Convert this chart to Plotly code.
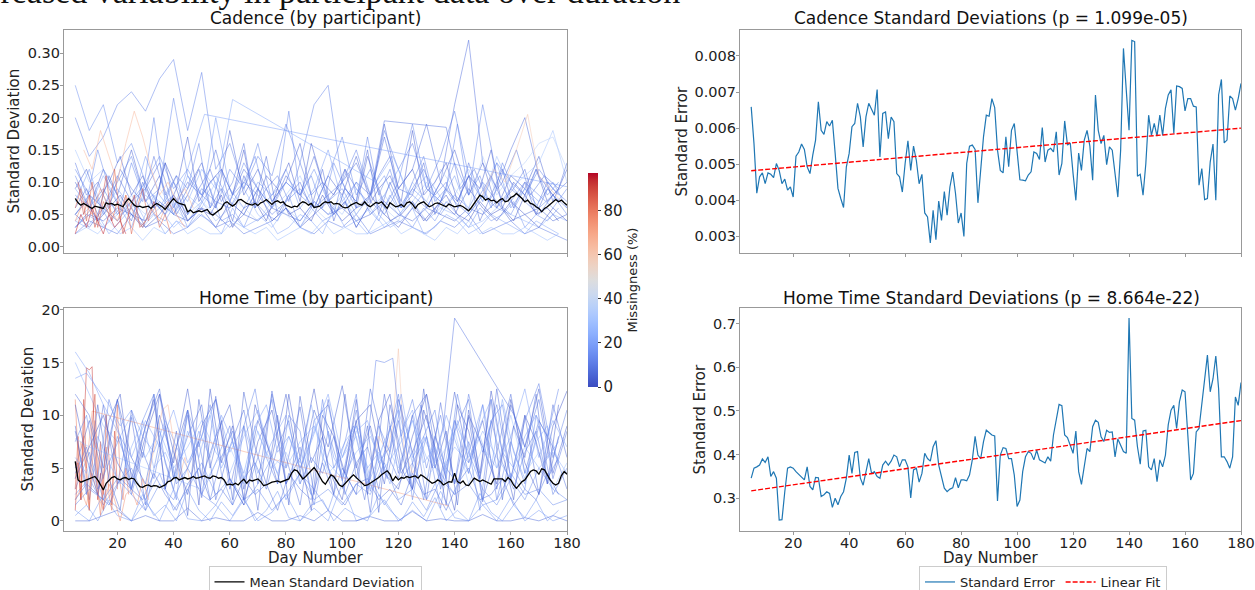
import plotly.graph_objects as go

# ---------------- data ----------------
DAYS = list(range(5, 181))  # day numbers 5..180

CAD_MEAN = [0.0747, 0.0680, 0.0644, 0.0670, 0.0644, 0.0619, 0.0593, 0.0629, 0.0619, 0.0608,
            0.0593, 0.0680, 0.0660, 0.0670, 0.0644, 0.0660, 0.0644, 0.0619, 0.0696, 0.0747,
            0.0696, 0.0644, 0.0619, 0.0629, 0.0608, 0.0619, 0.0629, 0.0593, 0.0644, 0.0670,
            0.0644, 0.0619, 0.0577, 0.0644, 0.0696, 0.0747, 0.0696, 0.0670, 0.0655, 0.0644,
            0.0541, 0.0567, 0.0526, 0.0541, 0.0557, 0.0541, 0.0557, 0.0577, 0.0515, 0.0490,
            0.0526, 0.0567, 0.0593, 0.0670, 0.0696, 0.0660, 0.0629, 0.0660, 0.0722, 0.0732,
            0.0696, 0.0670, 0.0655, 0.0644, 0.0670, 0.0639, 0.0680, 0.0696, 0.0732, 0.0686,
            0.0655, 0.0696, 0.0711, 0.0680, 0.0696, 0.0644, 0.0629, 0.0608, 0.0629, 0.0619,
            0.0670, 0.0696, 0.0680, 0.0644, 0.0670, 0.0608, 0.0619, 0.0629, 0.0670, 0.0696,
            0.0680, 0.0696, 0.0660, 0.0670, 0.0660, 0.0619, 0.0603, 0.0608, 0.0644, 0.0670,
            0.0686, 0.0660, 0.0644, 0.0696, 0.0644, 0.0619, 0.0655, 0.0686, 0.0670, 0.0696,
            0.0644, 0.0593, 0.0680, 0.0655, 0.0619, 0.0629, 0.0655, 0.0619, 0.0680, 0.0696,
            0.0660, 0.0593, 0.0655, 0.0680, 0.0696, 0.0655, 0.0619, 0.0639, 0.0670, 0.0680,
            0.0660, 0.0629, 0.0619, 0.0660, 0.0644, 0.0619, 0.0629, 0.0639, 0.0619, 0.0593,
            0.0557, 0.0608, 0.0670, 0.0732, 0.0799, 0.0773, 0.0722, 0.0747, 0.0711, 0.0722,
            0.0680, 0.0722, 0.0747, 0.0696, 0.0711, 0.0763, 0.0784, 0.0825, 0.0789, 0.0747,
            0.0696, 0.0722, 0.0670, 0.0655, 0.0619, 0.0593, 0.0541, 0.0593, 0.0619, 0.0660,
            0.0696, 0.0732, 0.0696, 0.0722, 0.0680, 0.0644]

HOME_MEAN = [5.63, 3.88, 3.66, 3.78, 3.88, 3.97, 4.10, 4.20, 3.88, 3.40,
             2.93, 3.56, 3.88, 4.10, 4.20, 3.97, 3.88, 4.04, 4.10, 3.91,
             4.04, 3.97, 3.56, 3.24, 3.18, 3.34, 3.40, 3.24, 3.34, 3.31,
             3.15, 3.31, 3.40, 3.72, 3.78, 4.04, 4.10, 3.88, 3.97, 4.10,
             3.97, 4.04, 4.20, 4.04, 4.10, 4.20, 4.26, 4.10, 4.04, 4.26,
             4.20, 4.04, 4.10, 3.88, 3.40, 3.47, 3.40, 3.56, 3.40, 3.72,
             3.94, 3.56, 3.88, 3.78, 3.88, 3.97, 3.72, 3.34, 3.40, 3.56,
             3.66, 3.72, 3.78, 3.66, 3.78, 3.88, 3.97, 4.52, 4.83, 4.74,
             4.36, 3.97, 4.20, 4.52, 4.83, 5.06, 4.67, 4.20, 3.72, 3.47,
             3.88, 4.36, 4.20, 3.78, 3.40, 3.24, 3.56, 3.88, 4.10, 4.36,
             4.10, 3.88, 3.56, 3.34, 3.40, 3.56, 3.78, 3.88, 4.10, 4.36,
             4.52, 4.74, 4.42, 3.78, 4.20, 3.88, 4.10, 4.04, 4.20, 4.10,
             4.20, 4.26, 4.04, 4.36, 4.20, 3.97, 3.72, 3.56, 3.66, 3.88,
             3.72, 3.40, 3.56, 3.72, 3.66, 4.52, 3.72, 3.56, 3.78, 3.40,
             3.34, 3.66, 4.04, 3.88, 3.72, 3.88, 3.72, 3.56, 3.47, 3.97,
             3.97, 4.04, 3.97, 3.72, 4.10, 3.88, 3.40, 3.08, 3.40, 3.72,
             3.88, 4.29, 4.67, 4.83, 4.74, 4.42, 4.93, 4.83, 4.36, 3.88,
             3.56, 3.40, 3.56, 4.29, 4.67, 4.42]

CAD_SE = [0.00659, 0.00557, 0.00420, 0.00465, 0.00476, 0.00446, 0.00476, 0.00472, 0.00463, 0.00502,
          0.00483, 0.00446, 0.00459, 0.00428, 0.00437, 0.00409, 0.00522, 0.00534, 0.00556, 0.00541,
          0.00493, 0.00474, 0.00525, 0.00567, 0.00673, 0.00594, 0.00583, 0.00618, 0.00606, 0.00622,
          0.00530, 0.00433, 0.00405, 0.00380, 0.00493, 0.00530, 0.00604, 0.00613, 0.00669, 0.00631,
          0.00548, 0.00631, 0.00669, 0.00650, 0.00636, 0.00707, 0.00520, 0.00641, 0.00645, 0.00571,
          0.00631, 0.00618, 0.00474, 0.00465, 0.00423, 0.00502, 0.00565, 0.00483, 0.00550, 0.00511,
          0.00446, 0.00472, 0.00365, 0.00354, 0.00282, 0.00372, 0.00291, 0.00398, 0.00344, 0.00424,
          0.00359, 0.00437, 0.00478, 0.00419, 0.00337, 0.00365, 0.00300, 0.00502, 0.00550, 0.00553,
          0.00541, 0.00393, 0.00483, 0.00576, 0.00636, 0.00633, 0.00682, 0.00657, 0.00539, 0.00483,
          0.00476, 0.00576, 0.00493, 0.00594, 0.00613, 0.00539, 0.00457, 0.00456, 0.00454, 0.00470,
          0.00479, 0.00534, 0.00530, 0.00513, 0.00602, 0.00506, 0.00539, 0.00544, 0.00534, 0.00590,
          0.00470, 0.00502, 0.00620, 0.00553, 0.00559, 0.00474, 0.00400, 0.00531, 0.00483, 0.00567,
          0.00594, 0.00550, 0.00456, 0.00692, 0.00594, 0.00557, 0.00580, 0.00499, 0.00548, 0.00539,
          0.00474, 0.00409, 0.00539, 0.00821, 0.00706, 0.00594, 0.00843, 0.00840, 0.00467, 0.00472,
          0.00414, 0.00502, 0.00636, 0.00580, 0.00613, 0.00578, 0.00636, 0.00580, 0.00655, 0.00692,
          0.00706, 0.00585, 0.00717, 0.00715, 0.00710, 0.00648, 0.00682, 0.00682, 0.00661, 0.00659,
          0.00442, 0.00488, 0.00402, 0.00405, 0.00506, 0.00556, 0.00400, 0.00692, 0.00735, 0.00559,
          0.00567, 0.00689, 0.00682, 0.00650, 0.00682, 0.00724]

HOME_SE = [0.346, 0.369, 0.372, 0.376, 0.390, 0.382, 0.395, 0.350, 0.361, 0.346,
           0.250, 0.251, 0.315, 0.369, 0.372, 0.369, 0.361, 0.355, 0.350, 0.342,
           0.372, 0.327, 0.319, 0.348, 0.347, 0.304, 0.308, 0.315, 0.311, 0.279,
           0.300, 0.285, 0.304, 0.315, 0.346, 0.399, 0.357, 0.405, 0.407, 0.346,
           0.330, 0.361, 0.391, 0.357, 0.361, 0.350, 0.346, 0.376, 0.385, 0.376,
           0.385, 0.399, 0.395, 0.372, 0.388, 0.388, 0.372, 0.301, 0.365, 0.369,
           0.337, 0.357, 0.403, 0.391, 0.385, 0.418, 0.432, 0.376, 0.346, 0.323,
           0.315, 0.321, 0.324, 0.347, 0.324, 0.342, 0.342, 0.340, 0.353, 0.388,
           0.442, 0.399, 0.391, 0.430, 0.456, 0.451, 0.445, 0.443, 0.294, 0.399,
           0.416, 0.414, 0.391, 0.391, 0.353, 0.281, 0.296, 0.361, 0.395, 0.407,
           0.403, 0.388, 0.410, 0.388, 0.384, 0.381, 0.395, 0.385, 0.445, 0.483,
           0.515, 0.512, 0.445, 0.439, 0.422, 0.403, 0.454, 0.361, 0.332, 0.376,
           0.414, 0.407, 0.464, 0.479, 0.474, 0.441, 0.430, 0.456, 0.451, 0.452,
           0.395, 0.436, 0.422, 0.407, 0.403, 0.713, 0.483, 0.479, 0.418, 0.378,
           0.454, 0.456, 0.372, 0.365, 0.391, 0.338, 0.388, 0.372, 0.399, 0.468,
           0.502, 0.513, 0.460, 0.521, 0.548, 0.544, 0.445, 0.342, 0.357, 0.452,
           0.460, 0.513, 0.574, 0.628, 0.544, 0.574, 0.626, 0.551, 0.395, 0.395,
           0.384, 0.369, 0.395, 0.532, 0.513, 0.565]

FIT_DAYS = [5, 180]
CAD_FIT = [0.00482, 0.00600]
HOME_FIT = [0.317, 0.478]

# participant series: (missingness %, days, values)
STEP5_DAYS = list(range(5, 181, 5))
STEP4_DAYS = list(range(5, 178, 4))

CAD_PARTICIPANTS = [
    (12, STEP5_DAYS, [0.20, 0.14, 0.17, 0.22, 0.24, 0.21, 0.26, 0.29, 0.18, 0.27, 0.12, 0.16, 0.09, 0.14, 0.11, 0.19, 0.13, 0.22,
                      0.25, 0.10, 0.15, 0.08, 0.18, 0.12, 0.16, 0.09, 0.14, 0.21, 0.11, 0.07, 0.13, 0.10, 0.08, 0.12, 0.09, 0.07]),
    (8, STEP5_DAYS, [0.05, 0.08, 0.06, 0.11, 0.07, 0.09, 0.13, 0.06, 0.10, 0.08, 0.15, 0.07, 0.12, 0.09, 0.06, 0.11, 0.08, 0.14,
                     0.07, 0.10, 0.13, 0.08, 0.17, 0.09, 0.12, 0.19, 0.10, 0.22, 0.32, 0.13, 0.09, 0.15, 0.20, 0.11, 0.08, 0.10]),
    (20, [5, 9, 13, 17, 21, 25, 29, 33, 37, 41, 45, 51, 180],
         [0.03, 0.05, 0.04, 0.07, 0.05, 0.06, 0.04, 0.08, 0.05, 0.07, 0.12, 0.205, 0.093]),
    (15, STEP5_DAYS, [0.25, 0.18, 0.22, 0.13, 0.16, 0.10, 0.14, 0.09, 0.12, 0.08, 0.11, 0.07, 0.13, 0.09, 0.06, 0.10, 0.08, 0.12,
                      0.07, 0.09, 0.05, 0.08, 0.11, 0.06, 0.09, 0.07, 0.05, 0.08, 0.06, 0.10, 0.07, 0.05, 0.09, 0.06, 0.08, 0.05]),
    (25, STEP5_DAYS, [0.04, 0.06, 0.03, 0.05, 0.08, 0.04, 0.06, 0.03, 0.05, 0.07, 0.04, 0.06, 0.09, 0.05, 0.03, 0.06, 0.04, 0.07,
                      0.05, 0.08, 0.04, 0.06, 0.03, 0.05, 0.07, 0.04, 0.06, 0.05, 0.03, 0.04, 0.06, 0.05, 0.04, 0.03, 0.05, 0.04]),
    (5, STEP5_DAYS, [0.10, 0.06, 0.12, 0.08, 0.15, 0.07, 0.11, 0.05, 0.09, 0.13, 0.06, 0.18, 0.08, 0.12, 0.07, 0.10, 0.16, 0.06,
                     0.11, 0.08, 0.14, 0.07, 0.19, 0.09, 0.12, 0.06, 0.10, 0.15, 0.08, 0.13, 0.06, 0.11, 0.09, 0.14, 0.07, 0.12]),
    (10, STEP5_DAYS, [0.02, 0.04, 0.03, 0.02, 0.05, 0.03, 0.04, 0.02, 0.03, 0.05, 0.03, 0.04, 0.02, 0.03, 0.04, 0.06, 0.03, 0.02,
                      0.04, 0.03, 0.05, 0.02, 0.03, 0.04, 0.03, 0.02, 0.04, 0.03, 0.05, 0.02, 0.03, 0.04, 0.02, 0.03, 0.02, 0.01]),
    (18, STEP5_DAYS, [0.07, 0.12, 0.05, 0.09, 0.06, 0.14, 0.08, 0.05, 0.11, 0.07, 0.20, 0.09, 0.06, 0.10, 0.08, 0.12, 0.06, 0.09,
                      0.15, 0.07, 0.10, 0.05, 0.08, 0.12, 0.06, 0.09, 0.07, 0.11, 0.05, 0.08, 0.13, 0.06, 0.09, 0.07, 0.10, 0.06]),
    (30, STEP5_DAYS, [0.15, 0.10, 0.12, 0.08, 0.06, 0.09, 0.07, 0.05, 0.08, 0.06, 0.10, 0.07, 0.05, 0.09, 0.06, 0.08, 0.11, 0.06,
                      0.07, 0.05, 0.09, 0.06, 0.08, 0.05, 0.07, 0.10, 0.06, 0.08, 0.12, 0.07, 0.14, 0.09, 0.11, 0.13, 0.18, 0.10]),
    (3, STEP5_DAYS, [0.05, 0.03, 0.06, 0.04, 0.07, 0.03, 0.05, 0.08, 0.04, 0.06, 0.03, 0.07, 0.05, 0.09, 0.04, 0.06, 0.03, 0.05,
                     0.07, 0.04, 0.06, 0.08, 0.05, 0.03, 0.06, 0.04, 0.07, 0.05, 0.09, 0.06, 0.04, 0.07, 0.05, 0.03, 0.06, 0.04]),
    (14, STEP5_DAYS, [0.12, 0.08, 0.06, 0.10, 0.14, 0.07, 0.09, 0.23, 0.11, 0.08, 0.06, 0.12, 0.09, 0.16, 0.07, 0.10, 0.08, 0.06,
                      0.11, 0.17, 0.08, 0.12, 0.06, 0.10, 0.19, 0.09, 0.07, 0.13, 0.08, 0.22, 0.11, 0.07, 0.10, 0.08, 0.06, 0.09]),
    (22, [5, 10, 15, 20, 25, 30, 35, 40, 45, 50, 55, 61, 112, 118, 124, 130, 136],
         [0.09, 0.06, 0.11, 0.07, 0.05, 0.08, 0.06, 0.10, 0.07, 0.12, 0.09, 0.228, 0.10, 0.14, 0.08, 0.11, 0.07]),
    (9, [100, 105, 110, 115, 137, 142, 147, 152, 157, 162, 167, 172, 177, 180],
        [0.06, 0.10, 0.08, 0.195, 0.185, 0.09, 0.12, 0.07, 0.10, 0.15, 0.08, 0.11, 0.09, 0.13]),
    (6, STEP5_DAYS, [0.03, 0.05, 0.04, 0.06, 0.05, 0.04, 0.07, 0.05, 0.04, 0.06, 0.05, 0.03, 0.05, 0.04, 0.06, 0.05, 0.04, 0.07,
                     0.05, 0.06, 0.04, 0.05, 0.07, 0.05, 0.04, 0.06, 0.05, 0.04, 0.06, 0.05, 0.07, 0.04, 0.05, 0.06, 0.04, 0.05]),
    (11, STEP5_DAYS, [0.08, 0.06, 0.09, 0.05, 0.07, 0.10, 0.06, 0.08, 0.05, 0.09, 0.07, 0.06, 0.10, 0.08, 0.05, 0.07, 0.09, 0.06,
                      0.08, 0.10, 0.06, 0.07, 0.05, 0.09, 0.08, 0.06, 0.10, 0.07, 0.05, 0.08, 0.06, 0.09, 0.07, 0.05, 0.08, 0.06]),
    (35, STEP5_DAYS, [0.05, 0.08, 0.06, 0.04, 0.07, 0.05, 0.09, 0.06, 0.04, 0.07, 0.05, 0.08, 0.06, 0.04, 0.07, 0.05, 0.03, 0.06,
                      0.04, 0.07, 0.05, 0.08, 0.06, 0.04, 0.10, 0.07, 0.12, 0.09, 0.06, 0.14, 0.08, 0.11, 0.13, 0.16, 0.17, 0.12]),
    (7, STEP4_DAYS, [0.06, 0.09, 0.05, 0.11, 0.07, 0.04, 0.10, 0.06, 0.13, 0.05, 0.08, 0.12, 0.06, 0.09, 0.04, 0.11, 0.07, 0.14,
                     0.05, 0.08, 0.10, 0.06, 0.12, 0.04, 0.09, 0.07, 0.15, 0.05, 0.10, 0.06, 0.08, 0.13, 0.05, 0.09, 0.07, 0.11,
                     0.04, 0.08, 0.12, 0.06, 0.10, 0.05, 0.09, 0.07]),
    (16, STEP4_DAYS, [0.03, 0.05, 0.07, 0.04, 0.06, 0.03, 0.08, 0.05, 0.04, 0.07, 0.03, 0.06, 0.09, 0.04, 0.05, 0.03, 0.07, 0.05,
                      0.04, 0.08, 0.03, 0.06, 0.04, 0.05, 0.07, 0.03, 0.06, 0.04, 0.08, 0.05, 0.03, 0.06, 0.04, 0.07, 0.05, 0.03,
                      0.06, 0.04, 0.05, 0.07, 0.03, 0.05, 0.04, 0.06]),
    (4, STEP4_DAYS, [0.09, 0.12, 0.07, 0.10, 0.14, 0.08, 0.11, 0.06, 0.13, 0.09, 0.17, 0.07, 0.10, 0.12, 0.08, 0.15, 0.06, 0.11,
                     0.09, 0.13, 0.07, 0.16, 0.10, 0.08, 0.12, 0.06, 0.14, 0.09, 0.11, 0.07, 0.18, 0.08, 0.10, 0.13, 0.07, 0.11,
                     0.09, 0.15, 0.06, 0.10, 0.08, 0.12, 0.07, 0.09]),
    (21, STEP4_DAYS, [0.04, 0.03, 0.05, 0.02, 0.04, 0.06, 0.03, 0.05, 0.02, 0.04, 0.03, 0.05, 0.04, 0.02, 0.06, 0.03, 0.04, 0.05,
                      0.02, 0.03, 0.05, 0.04, 0.02, 0.06, 0.03, 0.04, 0.02, 0.05, 0.03, 0.04, 0.06, 0.02, 0.03, 0.05, 0.04, 0.02,
                      0.03, 0.05, 0.04, 0.03, 0.02, 0.04, 0.03, 0.02]),
    (13, STEP4_DAYS, [0.11, 0.07, 0.15, 0.09, 0.06, 0.13, 0.08, 0.20, 0.07, 0.11, 0.09, 0.16, 0.06, 0.12, 0.08, 0.10, 0.14, 0.07,
                      0.09, 0.21, 0.08, 0.11, 0.06, 0.13, 0.09, 0.07, 0.17, 0.08, 0.12, 0.06, 0.10, 0.14, 0.07, 0.09, 0.19, 0.08,
                      0.11, 0.06, 0.13, 0.09, 0.07, 0.12, 0.08, 0.10]),
    (2, STEP4_DAYS, [0.05, 0.07, 0.04, 0.06, 0.08, 0.05, 0.03, 0.07, 0.05, 0.09, 0.04, 0.06, 0.05, 0.08, 0.03, 0.06, 0.07, 0.04,
                     0.09, 0.05, 0.06, 0.04, 0.08, 0.05, 0.07, 0.03, 0.06, 0.09, 0.04, 0.05, 0.07, 0.04, 0.06, 0.08, 0.05, 0.04,
                     0.07, 0.05, 0.06, 0.04, 0.08, 0.05, 0.06, 0.04]),
    (28, STEP4_DAYS, [0.02, 0.03, 0.02, 0.04, 0.02, 0.03, 0.01, 0.03, 0.02, 0.04, 0.02, 0.03, 0.02, 0.02, 0.04, 0.03, 0.02, 0.03,
                      0.01, 0.02, 0.03, 0.02, 0.04, 0.02, 0.03, 0.02, 0.02, 0.03, 0.04, 0.02, 0.03, 0.02, 0.01, 0.03, 0.02, 0.04,
                      0.02, 0.03, 0.02, 0.02, 0.03, 0.02, 0.01, 0.02]),
    (10, STEP4_DAYS, [0.13, 0.08, 0.10, 0.06, 0.12, 0.09, 0.07, 0.14, 0.08, 0.11, 0.05, 0.09, 0.12, 0.07, 0.10, 0.16, 0.06, 0.09,
                      0.11, 0.07, 0.13, 0.08, 0.10, 0.05, 0.12, 0.09, 0.07, 0.11, 0.14, 0.06, 0.09, 0.12, 0.08, 0.10, 0.06, 0.13,
                      0.08, 0.11, 0.07, 0.09, 0.12, 0.06, 0.10, 0.08]),
    (85, list(range(5, 40, 2)), [0.06, 0.09, 0.04, 0.10, 0.03, 0.07, 0.05, 0.12, 0.04, 0.08, 0.02, 0.06, 0.09, 0.04, 0.07, 0.03, 0.05, 0.02]),
    (90, list(range(6, 31, 2)), [0.10, 0.05, 0.08, 0.03, 0.06, 0.11, 0.04, 0.07, 0.02, 0.05, 0.08, 0.03, 0.04]),
    (75, list(range(5, 45, 3)), [0.04, 0.07, 0.05, 0.09, 0.06, 0.04, 0.08, 0.05, 0.03, 0.06, 0.04, 0.07, 0.05, 0.03]),
    (65, list(range(8, 48, 3)), [0.15, 0.12, 0.18, 0.14, 0.10, 0.16, 0.21, 0.17, 0.12, 0.08, 0.10, 0.07, 0.09, 0.06]),
    (95, list(range(5, 25, 2)), [0.02, 0.05, 0.03, 0.06, 0.04, 0.02, 0.05, 0.03, 0.04, 0.02]),
    (60, [150, 154, 158, 162, 166, 170, 174, 178], [0.08, 0.12, 0.10, 0.15, 0.205, 0.11, 0.09, 0.07]),
]

HOME_PARTICIPANTS = [
    (8, STEP5_DAYS, [8.5, 2.0, 11.0, 3.5, 9.8, 1.5, 12.0, 4.0, 10.5, 2.2, 11.8, 3.0, 9.0, 1.0, 12.3, 5.0, 10.8, 2.5,
                     11.5, 3.8, 9.5, 0.8, 12.0, 4.5, 10.0, 2.0, 11.2, 3.5, 9.8, 1.8, 12.5, 4.0, 10.0, 2.5, 11.0, 6.0]),
    (12, STEP5_DAYS, [3.0, 6.5, 2.0, 8.0, 4.5, 1.0, 7.5, 3.0, 10.0, 2.5, 5.5, 9.0, 2.0, 6.0, 11.5, 3.5, 7.0, 1.5,
                      8.5, 4.0, 10.5, 2.8, 6.5, 12.0, 3.0, 8.0, 1.2, 9.5, 4.5, 11.0, 2.0, 7.5, 3.5, 9.0, 2.5, 5.0]),
    (18, STEP5_DAYS, [1.0, 0.0, 2.5, 0.5, 0.0, 1.8, 0.0, 3.0, 0.2, 0.0, 1.5, 0.0, 2.0, 0.0, 0.8, 2.5, 0.0, 1.2,
                      0.0, 3.5, 0.0, 0.5, 2.0, 0.0, 1.0, 0.0, 2.8, 0.3, 0.0, 1.5, 0.0, 2.2, 0.0, 1.0, 0.0, 0.5]),
    (5, STEP5_DAYS, [5.0, 9.5, 4.0, 11.5, 6.0, 3.5, 10.0, 5.5, 12.5, 4.0, 8.0, 11.0, 3.0, 9.5, 6.0, 12.0, 4.5, 10.5,
                     7.0, 12.8, 5.0, 9.0, 3.5, 11.5, 6.5, 10.0, 4.0, 12.2, 5.5, 9.5, 3.0, 11.0, 7.0, 12.5, 4.5, 9.0]),
    (25, STEP5_DAYS, [15.0, 12.0, 9.0, 7.5, 10.0, 6.0, 8.5, 5.0, 7.0, 9.5, 6.5, 4.5, 8.0, 10.5, 6.0, 5.0, 7.5, 9.0,
                      5.5, 4.0, 6.5, 8.0, 5.0, 7.0, 9.5, 6.0, 4.5, 7.0, 5.5, 8.5, 6.0, 4.0, 7.0, 5.0, 6.5, 4.5]),
    (15, STEP5_DAYS, [2.5, 4.0, 1.5, 3.5, 5.0, 2.0, 4.5, 1.0, 3.0, 5.5, 2.5, 4.0, 1.5, 3.5, 6.0, 2.0, 4.5, 3.0,
                      1.0, 5.0, 2.5, 4.0, 1.5, 3.5, 5.5, 2.0, 4.5, 2.5, 6.5, 3.0, 1.5, 4.0, 2.0, 5.0, 3.0, 2.0]),
    (10, [100, 104, 108, 112, 116, 120, 124, 128, 132, 136, 140, 161, 165, 170, 175, 180],
         [3.0, 6.5, 2.0, 8.0, 4.0, 9.5, 3.5, 11.0, 5.0, 9.0, 19.2, 10.1, 7.0, 11.5, 4.0, 8.5]),
    (70, [5, 7, 9, 11, 138], [4.0, 7.5, 5.0, 10.4, 1.4]),
    (60, [110, 113, 116, 118, 120, 122, 125, 128], [5.0, 8.0, 6.5, 9.0, 16.3, 7.0, 4.5, 6.0]),
    (12, [100, 104, 108, 112, 115, 118, 121, 125, 130, 135, 140, 145, 150, 155, 160, 165, 170, 175, 180],
         [6.0, 9.0, 4.5, 15.2, 15.0, 15.4, 8.0, 11.5, 5.0, 10.0, 3.5, 12.0, 6.5, 11.0, 4.0, 9.5, 13.0, 6.0, 10.5]),
    (88, list(range(5, 21)), [3.0, 8.0, 2.0, 11.5, 5.0, 1.0, 9.0, 12.0, 4.0, 7.5, 2.5, 10.0, 6.0, 1.5, 8.5, 3.0]),
    (92, list(range(5, 17)), [1.0, 5.5, 2.0, 9.0, 14.5, 14.3, 14.6, 6.0, 2.0, 4.5, 1.0, 3.0]),
    (80, list(range(5, 25)), [11.5, 6.0, 2.0, 8.0, 3.5, 1.0, 5.0, 9.5, 3.0, 0.5, 4.0, 7.0, 2.5, 1.0, 6.0, 11.0, 3.5, 2.0, 5.0, 2.5]),
    (75, list(range(5, 33, 2)), [2.0, 3.0, 1.5, 4.5, 2.5, 1.0, 3.5, 2.0, 0.0, 2.5, 3.0, 1.5, 4.0, 2.0]),
    (65, list(range(30, 48, 2)), [3.0, 5.5, 8.0, 10.5, 11.0, 7.5, 4.0, 6.0, 3.5]),
    (20, STEP5_DAYS, [16.0, 14.0, 11.0, 8.5, 6.0, 9.5, 7.0, 10.5, 5.5, 8.0, 11.5, 6.5, 9.0, 4.5, 7.5, 10.0, 5.0, 8.5,
                      12.0, 6.0, 9.0, 4.0, 7.5, 10.5, 5.5, 8.0, 3.5, 9.5, 6.5, 11.0, 5.0, 8.0, 12.5, 6.0, 9.5, 7.0]),
    (7, STEP5_DAYS, [0.0, 0.0, 0.5, 1.0, 0.0, 0.5, 0.0, 0.0, 1.2, 0.0, 0.3, 0.0, 0.0, 0.8, 0.0, 0.0, 0.5, 0.0,
                     1.0, 0.0, 0.0, 0.4, 0.0, 0.0, 0.9, 0.0, 0.2, 0.0, 0.0, 0.6, 0.0, 0.0, 0.3, 0.0, 0.5, 0.0]),
    (3, STEP5_DAYS, [4.0, 7.0, 10.0, 5.5, 3.0, 8.0, 12.0, 6.5, 2.5, 9.0, 11.5, 4.0, 1.5, 7.5, 10.5, 3.5, 6.0, 12.5,
                     5.0, 2.0, 9.5, 11.0, 4.5, 3.0, 8.0, 12.0, 6.0, 1.0, 10.0, 7.0, 3.5, 11.5, 5.5, 2.5, 9.0, 12.3]),
    (30, STEP5_DAYS, [7.8, 7.0, 6.5, 6.0, 5.5, 5.0, 4.5, 4.0, 3.5, 3.0, 5.5, 7.0, 4.0, 8.5, 5.0, 6.5, 3.5, 9.0,
                      4.5, 6.0, 8.0, 3.0, 7.5, 5.0, 9.5, 4.0, 6.0, 8.5, 3.5, 7.0, 5.0, 10.0, 4.5, 6.5, 3.0, 5.5]),
    (14, STEP5_DAYS, [1.5, 3.0, 2.0, 4.0, 2.5, 1.0, 3.5, 2.0, 5.0, 2.5, 1.5, 4.0, 2.0, 3.0, 1.0, 2.5, 4.5, 2.0,
                      3.0, 1.5, 3.5, 2.5, 5.5, 2.0, 3.0, 1.0, 4.0, 2.5, 3.5, 1.5, 2.0, 4.5, 2.5, 3.0, 1.5, 2.0]),
    (9, STEP5_DAYS, [12.0, 10.0, 5.0, 11.5, 3.0, 9.0, 12.5, 4.0, 8.0, 11.0, 2.0, 7.0, 10.5, 3.5, 12.0, 6.0, 1.5, 9.5,
                     11.0, 5.0, 2.5, 12.5, 7.0, 4.0, 10.0, 12.0, 3.0, 8.5, 11.5, 2.0, 6.5, 12.0, 4.5, 9.5, 7.0, 3.0]),
    (6, STEP4_DAYS, [9.0, 2.5, 11.0, 4.0, 1.0, 10.5, 6.0, 12.0, 3.0, 8.5, 0.5, 11.5, 5.0, 9.5, 2.0, 12.2, 7.0, 3.5,
                     10.0, 1.5, 11.8, 5.5, 8.0, 2.5, 12.0, 4.0, 9.0, 0.8, 11.0, 6.5, 3.0, 12.5, 5.0, 8.5, 1.5, 10.5,
                     4.5, 11.5, 2.0, 9.0, 6.0, 12.0, 3.5, 8.0]),
    (11, STEP4_DAYS, [4.5, 7.0, 3.0, 5.5, 8.0, 2.5, 6.5, 4.0, 9.0, 3.5, 5.0, 7.5, 2.0, 6.0, 8.5, 4.0, 5.5, 3.0,
                      7.0, 9.5, 3.5, 6.0, 4.5, 8.0, 2.5, 5.5, 7.0, 3.0, 9.0, 4.5, 6.5, 2.0, 8.0, 5.0, 3.5, 7.5,
                      4.0, 9.5, 5.5, 3.0, 6.5, 8.5, 4.0, 6.0]),
    (17, STEP4_DAYS, [0.5, 1.5, 0.0, 2.0, 1.0, 0.0, 2.5, 0.5, 1.5, 0.0, 3.0, 1.0, 0.0, 1.8, 0.5, 2.2, 0.0, 1.0,
                      2.8, 0.3, 0.0, 1.5, 2.0, 0.0, 1.2, 0.5, 0.0, 2.5, 1.0, 0.0, 1.8, 0.4, 2.2, 0.0, 1.0, 0.0,
                      2.6, 0.8, 0.0, 1.5, 0.3, 2.0, 0.0, 1.0]),
    (4, STEP4_DAYS, [11.0, 6.0, 2.5, 9.5, 12.0, 4.0, 8.0, 11.5, 3.0, 7.0, 10.5, 1.5, 12.5, 5.5, 9.0, 2.0, 11.0, 7.5,
                     3.5, 12.0, 6.0, 1.0, 10.0, 8.0, 4.5, 11.5, 2.5, 9.5, 12.0, 5.0, 3.0, 10.5, 7.0, 1.5, 11.0, 8.5,
                     4.0, 12.3, 6.5, 2.0, 10.0, 7.5, 3.5, 11.0]),
    (22, STEP4_DAYS, [6.0, 4.5, 8.0, 5.5, 3.5, 7.0, 9.5, 5.0, 6.5, 4.0, 8.5, 6.0, 10.0, 5.0, 7.5, 3.5, 9.0, 6.5,
                      4.5, 8.0, 5.5, 11.0, 6.0, 4.0, 7.5, 9.0, 5.0, 6.5, 3.5, 8.5, 10.5, 5.5, 7.0, 4.5, 9.5, 6.0,
                      8.0, 5.0, 11.5, 6.5, 4.0, 7.5, 9.0, 5.5]),
    (9, STEP4_DAYS, [2.0, 3.5, 2.5, 1.5, 4.0, 3.0, 2.0, 4.5, 2.5, 1.0, 3.5, 5.0, 2.0, 3.0, 1.5, 4.0, 2.5, 3.5,
                     1.0, 4.5, 3.0, 2.0, 5.5, 2.5, 1.5, 3.5, 4.0, 2.0, 3.0, 1.5, 4.5, 2.5, 3.0, 1.0, 3.5, 5.0,
                     2.0, 2.5, 4.0, 1.5, 3.0, 2.0, 4.5, 2.5]),
    (13, STEP4_DAYS, [7.5, 10.0, 4.0, 11.5, 8.0, 3.0, 9.5, 12.0, 5.5, 2.0, 10.5, 7.0, 11.0, 4.5, 1.5, 9.0, 12.5, 6.0,
                      3.5, 10.0, 8.5, 2.5, 11.5, 5.0, 7.5, 12.0, 3.0, 9.0, 6.5, 11.0, 2.0, 8.0, 10.5, 4.0, 12.0, 7.0,
                      1.0, 9.5, 11.0, 5.0, 3.0, 10.0, 8.0, 12.5]),
    (19, STEP4_DAYS, [13.5, 14.0, 12.5, 11.0, 9.0, 10.5, 8.0, 6.5, 9.5, 7.0, 5.0, 8.5, 6.0, 10.0, 7.5, 4.5, 9.0, 11.0,
                      6.5, 8.0, 5.0, 7.5, 10.5, 6.0, 4.0, 8.5, 9.5, 5.5, 7.0, 12.0, 6.0, 8.0, 5.5, 10.0, 7.0, 4.5,
                      9.0, 11.5, 6.5, 5.0, 8.0, 10.0, 6.0, 7.5]),
]

COLORBAR_TICKS = [0, 20, 40, 60, 80]
MISS_MAX = 97

# ---------------- styling helpers ----------------
COOLWARM = [(59, 76, 192), (68, 90, 204), (77, 104, 215), (87, 117, 225), (98, 130, 234), (108, 142, 241),
            (119, 154, 247), (130, 165, 251), (141, 176, 254), (152, 185, 255), (163, 194, 255), (174, 201, 253),
            (184, 208, 249), (194, 213, 244), (204, 217, 238), (213, 219, 230), (221, 221, 221), (229, 216, 209),
            (236, 211, 197), (241, 204, 185), (245, 196, 173), (247, 187, 160), (247, 177, 148), (247, 166, 135),
            (244, 154, 123), (241, 141, 111), (236, 127, 99), (229, 112, 88), (222, 96, 77), (213, 80, 66),
            (203, 62, 56), (192, 40, 47), (180, 4, 38)]
N = len(COOLWARM) - 1
CSCALE = [[i / N, "rgb(%d,%d,%d)" % c] for i, c in enumerate(COOLWARM)]


def miss_color(m, alpha=0.5):
    t = max(0.0, min(1.0, m / MISS_MAX)) * N
    i = min(int(t), N - 1)
    f = t - i
    c = [COOLWARM[i][k] + (COOLWARM[i + 1][k] - COOLWARM[i][k]) * f for k in range(3)]
    return "rgba(%d,%d,%d,%.2f)" % (c[0], c[1], c[2], alpha)


fig = go.Figure()

for m, d, v in CAD_PARTICIPANTS:
    fig.add_trace(go.Scatter(x=d, y=v, mode="lines", line=dict(color=miss_color(m), width=1),
                             showlegend=False, hoverinfo="skip", xaxis="x", yaxis="y"))
for m, d, v in HOME_PARTICIPANTS:
    fig.add_trace(go.Scatter(x=d, y=v, mode="lines", line=dict(color=miss_color(m), width=1),
                             showlegend=False, hoverinfo="skip", xaxis="x3", yaxis="y3"))

fig.add_trace(go.Scatter(x=DAYS, y=CAD_MEAN, mode="lines", line=dict(color="black", width=1.3),
                         name="Mean Standard Deviation", legend="legend", xaxis="x", yaxis="y"))
fig.add_trace(go.Scatter(x=DAYS, y=HOME_MEAN, mode="lines", line=dict(color="black", width=1.3),
                         showlegend=False, xaxis="x3", yaxis="y3"))

fig.add_trace(go.Scatter(x=DAYS, y=CAD_SE, mode="lines", line=dict(color="#1f77b4", width=1.2),
                         name="Standard Error", legend="legend2", xaxis="x2", yaxis="y2"))
fig.add_trace(go.Scatter(x=FIT_DAYS, y=CAD_FIT, mode="lines", line=dict(color="red", width=1.4, dash="5px,2px"),
                         name="Linear Fit", legend="legend2", xaxis="x2", yaxis="y2"))
fig.add_trace(go.Scatter(x=DAYS, y=HOME_SE, mode="lines", line=dict(color="#1f77b4", width=1.2),
                         showlegend=False, xaxis="x4", yaxis="y4"))
fig.add_trace(go.Scatter(x=FIT_DAYS, y=HOME_FIT, mode="lines", line=dict(color="red", width=1.4, dash="5px,2px"),
                         showlegend=False, xaxis="x4", yaxis="y4"))

# colorbar carrier (point outside the visible range)
fig.add_trace(go.Scatter(x=[-50], y=[-50], mode="markers", showlegend=False, hoverinfo="skip",
                         xaxis="x", yaxis="y",
                         marker=dict(size=1, color=[0], cmin=0, cmax=MISS_MAX, colorscale=CSCALE, showscale=True,
                                     colorbar=dict(x=588 / 1255, xanchor="left", y=1 - 280 / 590, yanchor="middle",
                                                   len=214 / 590, lenmode="fraction", thickness=10, ypad=0, xpad=0,
                                                   outlinewidth=0, tickvals=COLORBAR_TICKS,
                                                   ticks="outside", ticklen=3, tickcolor="#333",
                                                   tickfont=dict(size=15, color="#222"),
                                                   title=dict(text="Missingness (%)", side="right",
                                                              font=dict(size=13, color="#222"))))))

FONT = "DejaVu Sans, Verdana, sans-serif"
LX = [64 / 1255, 567 / 1255]
RX = [740 / 1255, 1241 / 1255]
TY = [1 - 253 / 590, 1 - 30 / 590]
BY = [1 - 531 / 590, 1 - 308 / 590]

axis_common = dict(showgrid=False, zeroline=False, showline=True, mirror=True, linecolor="#999",
                   linewidth=1.2, ticks="outside", ticklen=3, tickcolor="#999", automargin=False,
                   ticklabeloverflow="allow", tickfont=dict(size=14.5, color="#222"))
xt = dict(tickvals=[20, 40, 60, 80, 100, 120, 140, 160, 180], range=[1, 180], ticklabelstandoff=-5)
yt = dict(ticklabelstandoff=-3)

fig.update_layout(
    width=1255, height=590, margin=dict(l=0, r=0, t=0, b=0, autoexpand=False),
    paper_bgcolor="white", plot_bgcolor="white",
    font=dict(family=FONT, color="#222"),
    xaxis=dict(domain=LX, anchor="y", showticklabels=False, **xt, **axis_common),
    yaxis=dict(domain=TY, anchor="x", range=[-0.0097, 0.3357], tickvals=[0, 0.05, 0.1, 0.15, 0.2, 0.25, 0.3],
               tickformat=".2f", **yt, **axis_common),
    xaxis2=dict(domain=RX, anchor="y2", showticklabels=False, **xt, **axis_common),
    yaxis2=dict(domain=TY, anchor="x2", range=[0.00254, 0.00872], tickvals=[0.003, 0.004, 0.005, 0.006, 0.007, 0.008],
                tickformat=".3f", **yt, **axis_common),
    xaxis3=dict(domain=LX, anchor="y3", **xt, **axis_common),
    yaxis3=dict(domain=BY, anchor="x3", range=[-0.96, 20.16], tickvals=[0, 5, 10, 15, 20], **yt, **axis_common),
    xaxis4=dict(domain=RX, anchor="y4", **xt, **axis_common),
    yaxis4=dict(domain=BY, anchor="x4", range=[0.225, 0.736], tickvals=[0.3, 0.4, 0.5, 0.6, 0.7],
                tickformat=".1f", **yt, **axis_common),
    legend=dict(x=315 / 1255, xanchor="center", y=1 - 566 / 590, yanchor="top", orientation="h",
                bordercolor="#ccc", borderwidth=1, font=dict(size=13), bgcolor="white"),
    legend2=dict(x=1043 / 1255, xanchor="center", y=1 - 566 / 590, yanchor="top", orientation="h",
                 bordercolor="#ccc", borderwidth=1, font=dict(size=13), bgcolor="white"),
)

# subplot titles
titles = [("Cadence (by participant)", 315.5, 18), ("Cadence Standard Deviations (p = 1.099e-05)", 991, 18),
          ("Home Time (by participant)", 315.5, 298), ("Home Time Standard Deviations (p = 8.664e-22)", 991, 298)]
for txt, px, py in titles:
    fig.add_annotation(text=txt, x=px / 1255, y=1 - py / 590, xref="paper", yref="paper",
                       xanchor="center", yanchor="middle", showarrow=False, font=dict(size=17, color="#111"))

# axis titles
axis_titles = [("Standard Deviation", 14, 141.5, -90), ("Standard Deviation", 28, 419.5, -90),
               ("Standard Error", 682, 141.5, -90), ("Standard Error", 700, 419.5, -90),
               ("Day Number", 315.5, 558, 0), ("Day Number", 990.5, 558, 0)]
for txt, px, py, ang in axis_titles:
    fig.add_annotation(text=txt, x=px / 1255, y=1 - py / 590, xref="paper", yref="paper", textangle=ang,
                       xanchor="center", yanchor="middle", showarrow=False, font=dict(size=15, color="#222"))

fig.add_annotation(text="Increased variability in participant data over duration", x=-45 / 1255, y=1 - 12 / 590,
                   xref="paper", yref="paper", xanchor="left", yanchor="bottom", showarrow=False,
                   font=dict(size=34, family="Liberation Serif, DejaVu Serif, serif", color="#111"))

fig.write_html("out.html")
